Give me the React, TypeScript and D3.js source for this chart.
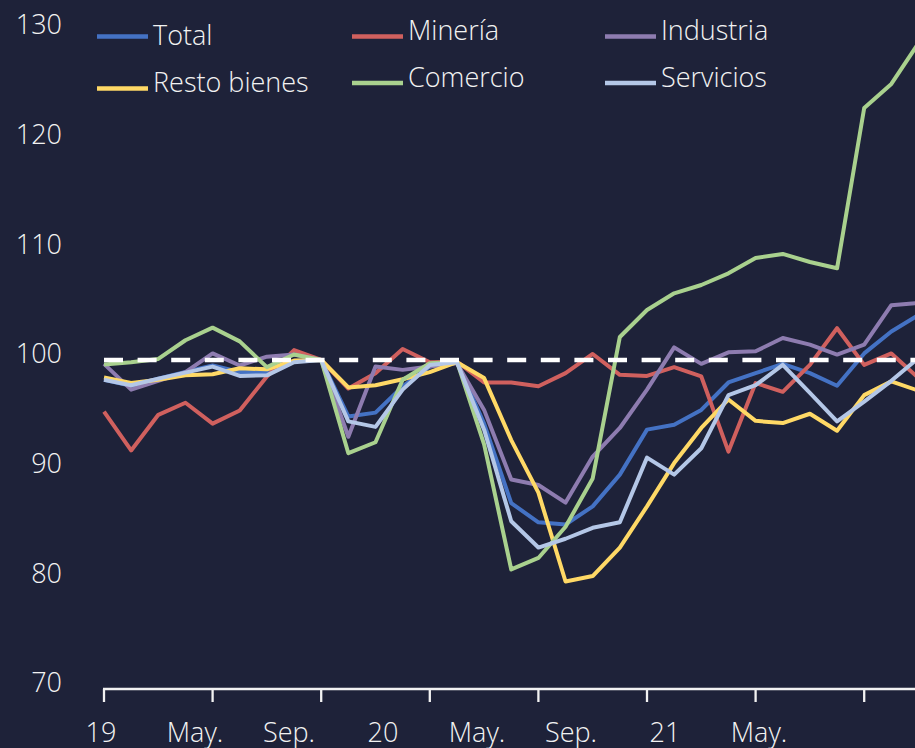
import React from "react";
import * as d3 from "d3";

const categories = [
  "2019-01","2019-02","2019-03","2019-04","2019-05","2019-06","2019-07","2019-08","2019-09","2019-10","2019-11","2019-12",
  "2020-01","2020-02","2020-03","2020-04","2020-05","2020-06","2020-07","2020-08","2020-09","2020-10","2020-11","2020-12",
  "2021-01","2021-02","2021-03","2021-04","2021-05","2021-06","2021-07",
];

const total = [98.2, 97.65, 98.3, 98.9, 99.5, 98.9, 98.9, 99.9, 100.0, 94.85, 95.2, 97.6, 99.4, 99.8, 94.2, 86.95, 85.2, 85.0, 86.65, 89.55, 93.65, 94.1, 95.45, 97.95, 98.8, 99.65, 98.8, 97.65, 100.6, 102.6, 104.1];
const mineria = [95.3, 91.75, 95.0, 96.1, 94.2, 95.4, 98.5, 100.9, 100.0, 97.4, 98.8, 101.0, 99.8, 99.85, 97.95, 97.95, 97.6, 98.8, 100.55, 98.65, 98.55, 99.35, 98.5, 91.65, 97.9, 97.1, 99.55, 102.9, 99.55, 100.6, 98.35];
const industria = [99.65, 97.3, 98.1, 98.9, 100.6, 99.5, 100.3, 100.5, 100.0, 93.0, 99.4, 99.1, 99.4, 99.7, 95.45, 89.1, 88.6, 87.0, 91.2, 93.8, 97.3, 101.15, 99.65, 100.7, 100.8, 102.0, 101.4, 100.5, 101.4, 105.0, 105.2];
const restoBienes = [98.4, 97.9, 98.2, 98.6, 98.7, 99.25, 99.15, 99.95, 100.0, 97.5, 97.7, 98.25, 98.9, 99.8, 98.35, 92.7, 87.9, 79.8, 80.3, 82.9, 86.65, 90.6, 93.8, 96.4, 94.45, 94.25, 95.1, 93.55, 96.8, 98.05, 97.2];
const comercio = [99.6, 99.8, 100.1, 101.8, 102.95, 101.7, 99.35, 100.5, 100.0, 91.5, 92.5, 98.2, 99.7, 99.85, 92.3, 80.9, 81.95, 84.8, 89.2, 102.1, 104.56, 106.08, 106.84, 107.9, 109.3, 109.67, 108.94, 108.36, 122.98, 125.17, 128.9];
const servicios = [98.2, 97.7, 98.3, 98.85, 99.4, 98.55, 98.6, 99.8, 100.0, 94.4, 93.9, 97.3, 99.55, 99.8, 93.65, 85.3, 82.9, 83.7, 84.7, 85.2, 91.1, 89.55, 91.95, 96.8, 97.7, 99.55, 97.0, 94.4, 96.2, 98.1, 100.2];

const seriesNames = ["Total", "Minería", "Industria", "Resto bienes", "Comercio", "Servicios"];
const seriesColors = ["#4472C4", "#D0605E", "#8E7CB0", "#FFD966", "#A9D18E", "#B4C7E7"];
const seriesValues = [total, mineria, industria, restoBienes, comercio, servicios];

const xTickLabels = ["19", "May.", "Sep.", "20", "May.", "Sep.", "21", "May."];
const yTicks = [70, 80, 90, 100, 110, 120, 130];
const referenceValue = 100;

// legend layout: [swatchX, swatchY, textBaseline]
const legendLayout = [
  [97, 36.5, 45],
  [352, 36.5, 40],
  [605, 36.5, 40],
  [97, 88.5, 92],
  [352, 83, 87],
  [605, 83, 87],
];

export default function App() {
  const W = 915;
  const H = 748;
  const bg = "#1E2239";
  const fg = "#F2F2F2";
  const font = "'Open Sans', sans-serif";
  const fw = 300;

  const x = d3
    .scalePoint<string>()
    .domain(categories)
    .range([104, 104 + 27.15 * (categories.length - 1)]);
  const y = d3.scaleLinear().domain([70, 130]).range([689, 31]);

  const line = d3
    .line<number>()
    .x((_, i) => x(categories[i]) as number)
    .y((d) => y(d));

  const labelScale = d3
    .scalePoint<string>()
    .domain(xTickLabels.map((_, i) => String(i)))
    .range([101, 759]);

  const tickCats = categories.filter((_, i) => i % 4 === 0);
  const axisY = y(70);

  return (
    <svg
      width={W}
      height={H}
      style={{ position: "absolute", left: 0, top: 0, background: bg, display: "block" }}
      fontFamily={font}
      fontWeight={fw}
    >
      <rect x={0} y={0} width={W} height={H} fill={bg} />

      {yTicks.map((t) => (
        <text key={t} x={62} y={y(t) + 3.3} textAnchor="end" fontSize={27} fill={fg}>
          {t}
        </text>
      ))}

      <line x1={103} x2={W} y1={axisY} y2={axisY} stroke={fg} strokeWidth={2.3} />
      {tickCats.map((c) => (
        <line
          key={c}
          x1={x(c) as number}
          x2={x(c) as number}
          y1={axisY}
          y2={axisY + 13}
          stroke={fg}
          strokeWidth={2.3}
        />
      ))}
      {xTickLabels.map((l, i) => (
        <text
          key={i}
          x={labelScale(String(i)) as number}
          y={742}
          textAnchor="middle"
          fontSize={27}
          fill={fg}
        >
          {l}
        </text>
      ))}

      {seriesValues.map((vals, si) => (
        <path
          key={seriesNames[si]}
          d={line(vals) || ""}
          fill="none"
          stroke={seriesColors[si]}
          strokeWidth={4}
          strokeLinejoin="round"
        />
      ))}

      <line
        x1={104}
        x2={W}
        y1={y(referenceValue)}
        y2={y(referenceValue)}
        stroke="#FFFFFF"
        strokeWidth={4.5}
        strokeDasharray="19 14.6"
      />

      {seriesNames.map((n, si) => {
        const [sx, sy, ty] = legendLayout[si];
        return (
          <g key={n}>
            <line x1={sx} x2={sx + 51} y1={sy} y2={sy} stroke={seriesColors[si]} strokeWidth={4.5} />
            <text x={sx + 56} y={ty} fontSize={27} fill={fg}>
              {n}
            </text>
          </g>
        );
      })}
    </svg>
  );
}
